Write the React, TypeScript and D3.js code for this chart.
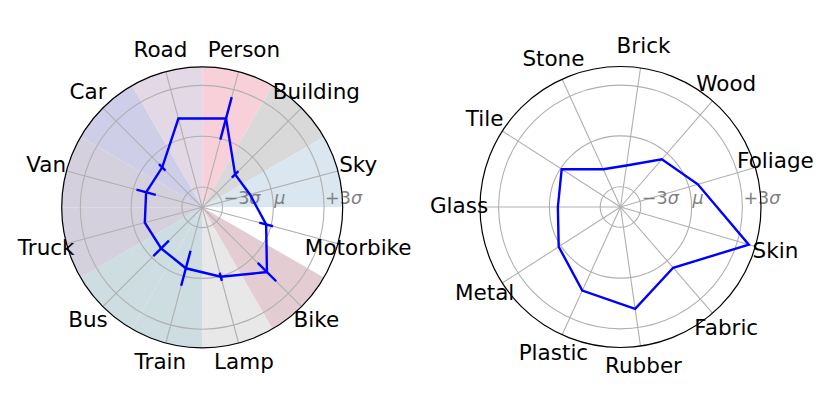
import React, { useEffect, useRef } from "react";
import * as d3 from "d3";

// left panel: objects
const objCats = ["Person", "Building", "Sky", "Motorbike", "Bike", "Lamp", "Train", "Bus", "Truck", "Van", "Car", "Road"];
const objVals = [1.24, -1.45, -1.28, -0.29, 1.21, 0.05, -0.47, -0.77, -0.69, -0.77, -0.86, 1.23];
const objErr = [1.3, 0.27, 0, 0.42, 0.77, 0.25, 1.07, 0.65, 0, 0.59, 0.27, 0];

// right panel: materials
const matCats = ["Brick", "Wood", "Foliage", "Skin", "Fabric", "Rubber", "Plastic", "Metal", "Glass", "Tile", "Stone"];
const matVals = [-1.72, -0.47, 0.56, 3.7, 0.55, 1.88, 1.23, 0.14, -0.5, -0.07, -1.75];

const rTicks = [-3, 0, 3];
const rTickLabels = [["−3", "σ"], ["", "μ"], ["+3", "σ"]];

const sectorColors = ["#f7d0d9", "#d9d9d9", "#dae6f0", "#ffffff", "#e3cdd3", "#e8e8e8", "#cddde2", "#cddde2", "#d5d0dd", "#d5d0dd", "#cfcee9", "#e3d8e6"];

const W = 830;
const H = 415;
const R = 140.5;
const FONT = "DejaVu Sans, sans-serif";

const App = () => {
  const svgRef = useRef(null);

  useEffect(() => {
    const svg = d3.select(svgRef.current);
    svg.selectAll("*").remove();

    const r = d3.scaleLinear().domain([-4.2, 4.1]).range([0, R]);

    const drawPanel = (cx, cy, cats, vals, errs, startDeg, colors) => {
      const n = cats.length;
      const step = (2 * Math.PI) / n;
      const a0 = (startDeg * Math.PI) / 180;
      const ang = (i) => a0 + i * step;
      const g = svg.append("g").attr("transform", `translate(${cx},${cy})`);
      const px = (a, rr) => rr * Math.sin(a);
      const py = (a, rr) => -rr * Math.cos(a);

      if (colors) {
        const arc = d3.arc().innerRadius(0).outerRadius(R);
        g.selectAll(".sector")
          .data(cats)
          .enter()
          .append("path")
          .attr("d", (d, i) => arc({ startAngle: ang(i) - step / 2, endAngle: ang(i) + step / 2 }))
          .attr("fill", (d, i) => colors[i]);
      }

      // grid
      g.selectAll(".ring")
        .data(rTicks)
        .enter()
        .append("circle")
        .attr("r", (d) => r(d))
        .attr("fill", "none")
        .attr("stroke", "#b0b0b0")
        .attr("stroke-width", 1.1);
      g.selectAll(".spoke")
        .data(cats)
        .enter()
        .append("line")
        .attr("x1", 0)
        .attr("y1", 0)
        .attr("x2", (d, i) => px(ang(i), R))
        .attr("y2", (d, i) => py(ang(i), R))
        .attr("stroke", "#b0b0b0")
        .attr("stroke-width", 1.1);

      // r tick labels
      const tl = g.selectAll(".rlab")
        .data(rTicks)
        .enter()
        .append("text")
        .attr("x", (d) => r(d) + 1)
        .attr("y", -3)
        .attr("font-family", FONT)
        .attr("font-size", 17.5)
        .attr("fill", "#808080");
      tl.append("tspan").text((d, i) => rTickLabels[i][0]);
      tl.append("tspan").attr("font-style", "italic").text((d, i) => rTickLabels[i][1]);

      // outer circle
      g.append("circle").attr("r", R).attr("fill", "none").attr("stroke", "#000").attr("stroke-width", 1.2);

      // category labels
      g.selectAll(".cat")
        .data(cats)
        .enter()
        .append("text")
        .attr("x", (d, i) => px(ang(i), 161.5))
        .attr("y", (d, i) => py(ang(i), 161.5) - 1.5)
        .attr("text-anchor", "middle")
        .attr("dominant-baseline", "central")
        .attr("font-family", FONT)
        .attr("font-size", 21.5)
        .attr("fill", "#000")
        .text((d) => d);

      // values
      const line = d3
        .lineRadial()
        .angle((d, i) => ang(i))
        .radius((d) => r(d))
        .curve(d3.curveLinearClosed);
      g.append("path")
        .attr("d", line(vals))
        .attr("fill", "none")
        .attr("stroke", "#0000ff")
        .attr("stroke-width", 2.4);

      if (errs) {
        g.selectAll(".err")
          .data(vals)
          .enter()
          .append("line")
          .attr("x1", (d, i) => px(ang(i), r(d - errs[i])))
          .attr("y1", (d, i) => py(ang(i), r(d - errs[i])))
          .attr("x2", (d, i) => px(ang(i), r(d + errs[i])))
          .attr("y2", (d, i) => py(ang(i), r(d + errs[i])))
          .attr("stroke", "#0000ff")
          .attr("stroke-width", 2.4);
      }
    };

    drawPanel(202.2, 207.3, objCats, objVals, objErr, 15, sectorColors);
    drawPanel(620.5, 207, matCats, matVals, null, 90 / 11, null);
  }, []);

  return (
    <svg
      ref={svgRef}
      width={W}
      height={H}
      style={{ position: "absolute", left: 0, top: 0, background: "#fff" }}
    />
  );
};

export default App;
